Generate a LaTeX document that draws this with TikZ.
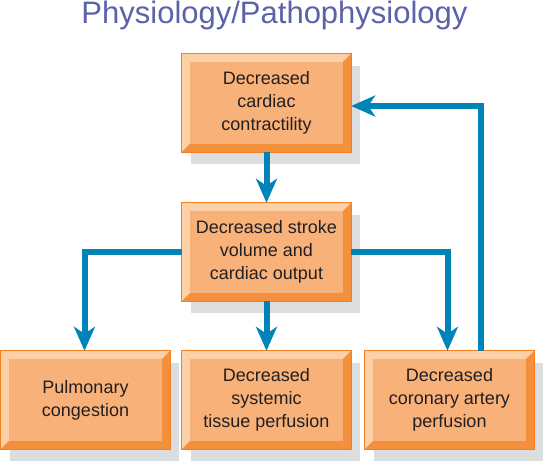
\documentclass[tikz,border=0pt]{standalone}
\usepackage{fontspec}
\setmainfont{Liberation Sans}
\usetikzlibrary{arrows.meta,calc,backgrounds}
\definecolor{boxfill}{HTML}{F9B17A}
\definecolor{bevlight}{HTML}{FDD1A8}
\definecolor{bevdark}{HTML}{F48F3C}
\definecolor{boxline}{HTML}{F47F20}
\definecolor{shadowgray}{HTML}{DCDDDF}
\definecolor{arrowblue}{HTML}{0083B7}
\definecolor{titleblue}{HTML}{5B62A8}
\definecolor{textdark}{HTML}{231F20}
\tikzset{
  x=1pt, y=-1pt,
  flowbox/.style={rectangle, minimum width=169pt, minimum height=98pt, inner sep=0pt,
    align=center, text=textdark,
    font=\fontsize{18}{23}\selectfont},
  flowarrow/.style={draw=arrowblue, line width=6pt,
    -{Stealth[length=24pt,width=21pt,inset=7pt]}},
}
\newcommand{\bevelit}[1]{%
  \fill[shadowgray] ($(#1.north west)+(9,12)$) rectangle ($(#1.south east)+(9,12)$);
  \fill[boxfill] (#1.north west) rectangle (#1.south east);
  \fill[bevlight] (#1.north west) -- (#1.north east) -- ($(#1.north east)+(-8,8)$) -- ($(#1.north west)+(8,8)$) -- cycle;
  \fill[bevlight] (#1.north west) -- ($(#1.north west)+(8,8)$) -- ($(#1.south west)+(8,-8)$) -- (#1.south west) -- cycle;
  \fill[bevdark] (#1.north east) -- (#1.south east) -- ($(#1.south east)+(-8,-8)$) -- ($(#1.north east)+(-8,8)$) -- cycle;
  \fill[bevdark] (#1.south west) -- ($(#1.south west)+(8,-8)$) -- ($(#1.south east)+(-8,-8)$) -- (#1.south east) -- cycle;
  \draw[boxline, line width=1.2pt] (#1.north west) rectangle (#1.south east);
}
\begin{document}
\begin{tikzpicture}
\useasboundingbox (0,0) rectangle (544,462);
\node[flowbox] (A) at (266.5,103) {Decreased\\cardiac\\contractility};
\node[flowbox] (B) at (266.5,252) {Decreased stroke\\volume and\\cardiac output};
\node[flowbox] (C) at (85.5,400) {Pulmonary\\congestion};
\node[flowbox] (D) at (266.5,400) {Decreased\\systemic\\tissue perfusion};
\node[flowbox] (E) at (449.5,400) {Decreased\\coronary artery\\perfusion};
\begin{scope}[on background layer]
\bevelit{A}\bevelit{B}\bevelit{C}\bevelit{D}\bevelit{E}
\end{scope}
\node[text=titleblue, font=\fontsize{31}{36}\selectfont, anchor=base] (title) at (274.5,24) {Physiology/Pathophysiology};
% connectors
\draw[flowarrow] (A.south) -- (B.north);
\draw[flowarrow] (B.south) -- (D.north);
\draw[flowarrow] (B.west) -| ([xshift=-1pt]C.north);
\draw[flowarrow] (B.east) -| ([xshift=-2pt]E.north);
\draw[flowarrow] ([xshift=31pt]E.north) |- ([yshift=-3pt]A.east);
\end{tikzpicture}
\end{document}
